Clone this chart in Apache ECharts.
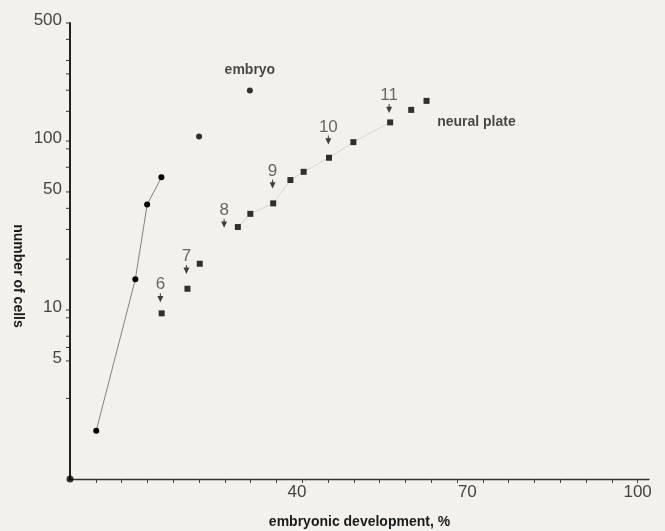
<!DOCTYPE html>
<html><head><meta charset="utf-8">
<script src="https://cdn.jsdelivr.net/npm/echarts@6/dist/echarts.min.js"></script>
<style>html,body{margin:0;padding:0;background:#f3f1eb}#c{width:665px;height:531px}</style>
</head><body><div id="c"></div>
<script>
// ---- data ----
const embryoLinkedX = [4.62, 11.51, 13.59, 16.10];
const embryoLinkedY = [1.93, 15.2, 42.1, 61.0];
const embryoLooseX = [22.74, 31.69];
const embryoLooseY = [106.6, 199.5];
const neuralX = [16.15, 20.69, 22.86, 29.57, 31.77, 35.80, 38.83, 41.16, 45.63, 49.92, 56.40, 60.11, 62.81];
const neuralY = [9.56, 13.37, 18.8, 31.0, 37.1, 42.8, 58.8, 65.8, 79.7, 98.6, 129, 153, 173];
const stageLabels = ['6', '7', '8', '9', '10', '11'];
const stageX = [15.92, 20.51, 27.15, 35.69, 45.51, 56.22];
const stageY = [11.83, 17.4, 32.6, 55.7, 101.4, 156];
const originPoint = [[0, 1]];
const xTickValues = [4.55, 9.09, 13.64, 18.18, 22.73, 27.27, 31.82, 36.36, 40.91, 45.45, 50, 54.55, 59.09, 63.64, 68.18, 72.73, 77.27, 81.82, 86.36, 90.91, 95.45, 100];
const xLabelValues = [40, 70, 100];
const yTickValues = [3, 5, 6, 7, 9, 10, 20, 30, 40, 50, 70, 90, 100, 150, 200, 250, 300, 400, 500];
const yLabelValues = [5, 10, 50, 100, 500];
const xMin = 0, xMax = 102, yMin = 1, yMax = 500;

const zip = (xs, ys) => xs.map((x, i) => [x, ys[i]]);
const font = '"Liberation Sans", Arial, Helvetica, sans-serif';
const neuralPts = zip(neuralX, neuralY);

const chart = echarts.init(document.getElementById('c'), null, {renderer: 'canvas'});
chart.setOption({
  backgroundColor: '#f3f1eb',
  animation: false,
  grid: {left: 70, right: 16, top: 23, bottom: 52, containLabel: false, outerBoundsMode: 'none'},
  xAxis: {
    type: 'value', min: xMin, max: xMax,
    name: 'embryonic development, %', nameLocation: 'middle', nameGap: 36,
    nameTextStyle: {fontFamily: font, fontSize: 14, fontWeight: 'bold', color: '#1a1a1a'},
    axisLine: {show: true, onZero: false, lineStyle: {color: '#333', width: 1.3}},
    axisTick: {show: true, customValues: xTickValues, length: 4, lineStyle: {color: '#444', width: 1}},
    axisLabel: {show: true, customValues: xLabelValues, margin: 5, fontFamily: font, fontSize: 17, color: '#444'},
    splitLine: {show: false}
  },
  yAxis: {
    type: 'log', logBase: 10, min: yMin, max: yMax,
    name: 'number of cells', nameLocation: 'middle', nameRotate: -90, nameGap: 45,
    nameTextStyle: {fontFamily: font, fontSize: 14, fontWeight: 'bold', color: '#1a1a1a', padding: [0, 0, 0, 50]},
    axisLine: {show: true, onZero: false, lineStyle: {color: '#222', width: 2}},
    axisTick: {show: false}, axisLabel: {show: false},
    splitLine: {show: false}, minorTick: {show: false}, minorSplitLine: {show: false}
  },
  series: [
    {
      type: 'line', data: zip(embryoLinkedX, embryoLinkedY),
      symbol: 'circle', symbolSize: 6, itemStyle: {color: '#000'},
      lineStyle: {color: '#666', width: 0.8}, z: 3
    },
    {
      type: 'scatter', data: zip(embryoLooseX, embryoLooseY),
      symbol: 'circle', symbolSize: 6, itemStyle: {color: '#000'},
      label: {show: true, position: 'top', distance: 10,
        formatter: p => p.dataIndex === embryoLooseX.length - 1 ? 'embryo' : '',
        fontFamily: font, fontSize: 14, fontWeight: 'bold', color: '#1a1a1a'}
    },
    {
      type: 'line', data: neuralPts.slice(3, 11), symbol: 'none',
      lineStyle: {color: '#888', width: 0.8, opacity: 0.35}, z: 1, silent: true
    },
    {
      type: 'scatter', data: neuralPts,
      symbol: 'rect', symbolSize: 6, itemStyle: {color: '#000'},
      label: {show: true, position: 'right', distance: 44,
        formatter: p => p.dataIndex === 10 ? 'neural plate' : '',
        fontFamily: font, fontSize: 14, fontWeight: 'bold', color: '#1a1a1a'}
    },
    {
      type: 'scatter', data: zip(stageX, stageY),
      symbol: 'path://M2.5,0 L3.5,0 L3.5,3 L6,3 L3,10 L0,3 L2.5,3 Z', symbolSize: [6, 9],
      itemStyle: {color: '#111'},
      label: {show: true, position: 'top', distance: 0,
        formatter: p => stageLabels[p.dataIndex],
        fontFamily: font, fontSize: 17, color: '#444'}
    },
    {
      type: 'scatter', data: originPoint, symbol: 'circle', symbolSize: 7,
      itemStyle: {color: '#000'}, clip: false, z: 6
    },
    {
      type: 'custom', data: yTickValues.map(v => [xMin, v]), clip: false, silent: true, z: 5,
      renderItem: (params, api) => {
        const p = api.coord([api.value(0), api.value(1)]);
        return {type: 'line', shape: {x1: p[0] - 4, y1: p[1], x2: p[0], y2: p[1]},
          style: {stroke: '#333', lineWidth: 1}};
      }
    },
    {
      type: 'custom', data: yLabelValues.map(v => [xMin, v]), clip: false, silent: true, z: 5,
      renderItem: (params, api) => {
        const p = api.coord([api.value(0), api.value(1)]);
        return {type: 'text', x: p[0] - 8, y: p[1] - 3,
          style: {text: String(yLabelValues[params.dataIndex]), align: 'right', verticalAlign: 'middle',
            fontFamily: font, fontSize: 17, fill: '#444'}};
      }
    }
  ]
});
</script>
</body></html>
